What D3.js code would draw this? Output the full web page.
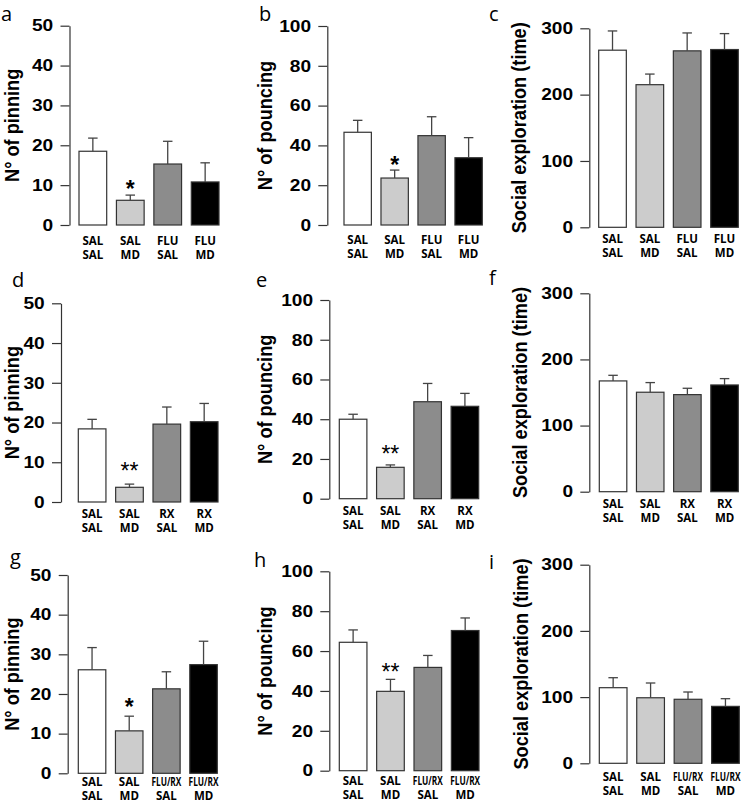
<!DOCTYPE html>
<html>
<head>
<script src="https://cdn.jsdelivr.net/npm/d3@7"></script>
<style>
	html, body {
		padding: 0;
		margin: 0;
		background: #fff;
	}
</style>
</head>
<body>
<script>
var width = 747, height = 804;

/* categories: drug line + condition line */
var drugFlu   = ["SAL", "SAL", "FLU", "FLU"];
var drugRx    = ["SAL", "SAL", "RX", "RX"];
var drugFluRx = ["SAL", "SAL", "FLU/RX", "FLU/RX"];
var condition = ["SAL", "MD", "SAL", "MD"];

/* y axis ticks + titles */
var pinningTicks  = [0, 10, 20, 30, 40, 50];
var pouncingTicks = [0, 20, 40, 60, 80, 100];
var socialTicks   = [0, 100, 200, 300];
var pinningTitle  = "N° of pinning";
var pouncingTitle = "N° of pouncing";
var socialTitle   = "Social exploration (time)";

/* means and SEM */
var pinningFlu      = [18.5, 6.2, 15.3, 10.8];
var pinningFluSem   = [3.3, 1.3, 5.7, 4.8];
var pouncingFlu     = [46.6, 23.6, 44.9, 33.8];
var pouncingFluSem  = [6.0, 4.0, 9.5, 10.1];
var socialFlu       = [267, 215, 266, 268];
var socialFluSem    = [29, 16, 27, 24];

var pinningRx       = [18.4, 3.7, 19.6, 20.2];
var pinningRxSem    = [2.4, 0.8, 4.3, 4.6];
var pouncingRx      = [40.0, 15.8, 48.8, 46.5];
var pouncingRxSem   = [2.5, 1.2, 9.2, 6.5];
var socialRx        = [167.5, 150.4, 146.8, 161.4];
var socialRxSem     = [8.5, 14.6, 9.6, 9.6];

var pinningFluRx    = [26.1, 10.7, 21.3, 27.4];
var pinningFluRxSem = [5.6, 3.7, 4.3, 5.9];
var pouncingFluRx   = [64.4, 39.8, 51.8, 70.3];
var pouncingFluRxSem= [6.2, 6.0, 6.0, 6.3];
var socialFluRx     = [114.2, 99, 96.7, 86];
var socialFluRxSem  = [15.1, 22.3, 11, 11.6];

/* significance marks */
var sigOne  = ["", "*", "", ""];
var sigTwo  = ["", "**", "", ""];
var sigNone = ["", "", "", ""];

var panels = [
	{ letter: "a", drug: drugFlu,   vals: pinningFlu,    sem: pinningFluSem,    ticks: pinningTicks,  title: pinningTitle,  sig: sigOne },
	{ letter: "b", drug: drugFlu,   vals: pouncingFlu,   sem: pouncingFluSem,   ticks: pouncingTicks, title: pouncingTitle, sig: sigOne },
	{ letter: "c", drug: drugFlu,   vals: socialFlu,     sem: socialFluSem,     ticks: socialTicks,   title: socialTitle,   sig: sigNone },
	{ letter: "d", drug: drugRx,    vals: pinningRx,     sem: pinningRxSem,     ticks: pinningTicks,  title: pinningTitle,  sig: sigTwo },
	{ letter: "e", drug: drugRx,    vals: pouncingRx,    sem: pouncingRxSem,    ticks: pouncingTicks, title: pouncingTitle, sig: sigTwo },
	{ letter: "f", drug: drugRx,    vals: socialRx,      sem: socialRxSem,      ticks: socialTicks,   title: socialTitle,   sig: sigNone },
	{ letter: "g", drug: drugFluRx, vals: pinningFluRx,  sem: pinningFluRxSem,  ticks: pinningTicks,  title: pinningTitle,  sig: sigOne },
	{ letter: "h", drug: drugFluRx, vals: pouncingFluRx, sem: pouncingFluRxSem, ticks: pouncingTicks, title: pouncingTitle, sig: sigTwo },
	{ letter: "i", drug: drugFluRx, vals: socialFluRx,   sem: socialFluRxSem,   ticks: socialTicks,   title: socialTitle,   sig: sigNone }
];

/* where each panel sits on the page */
var layout = [
	{ ax: 69.5,  top: 25.7,  bot: 225,   bl: 79,    br: 219,   lx: 1,   ly: 21,  tx: 18.5,  lab: 15.5, star: 11 },
	{ ax: 327.3, top: 26,    bot: 225,   bl: 344,   br: 482.3, lx: 259, ly: 21,  tx: 271.7, lab: 15,   star: 10 },
	{ ax: 589.3, top: 28.3,  bot: 227.3, bl: 598.7, br: 738.3, lx: 489, ly: 21,  tx: 525.5, lab: 12,   star: 10 },
	{ ax: 61,    top: 303.3, bot: 502,   bl: 78.3,  br: 218,   lx: 12,  ly: 287, tx: 18.5,  lab: 11.5, star: 18 },
	{ ax: 329.3, top: 300,   bot: 498.7, bl: 339.3, br: 478.7, lx: 256, ly: 287, tx: 271.7, lab: 12,   star: 16 },
	{ ax: 589.3, top: 293.3, bot: 491.7, bl: 599.3, br: 738.3, lx: 489, ly: 285, tx: 526.5, lab: 12.5, star: 10 },
	{ ax: 67.7,  top: 575,   bot: 773.3, bl: 78.3,  br: 217.3, lx: 10,  ly: 564, tx: 18.5,  lab: 9,    star: 14 },
	{ ax: 329.3, top: 571.3, bot: 770.7, bl: 339.3, br: 479,   lx: 254, ly: 567, tx: 271.7, lab: 10,   star: 12 },
	{ ax: 589.3, top: 564.7, bot: 763.3, bl: 599.3, br: 739.3, lx: 489, ly: 569, tx: 527.5, lab: 13.5, star: 10 }
];

var fills = ["#ffffff", "#cccccc", "#8c8c8c", "#000000"];
var stretch = 1.16;   // the source figure is a bit wider than tall
var boldFont = "'Liberation Sans', Arial, sans-serif";
var labelFont = "'Open Sans', 'Noto Sans', sans-serif";
var maxLabelW = 30;

var svg = d3.select("body").append("svg")
	.attr("width", width)
	.attr("height", height)
	.style("background", "#fff");

panels.forEach(function(p, k) {
	var L = layout[k];
	var g = svg.append("g");

	var y = d3.scaleLinear()
		.domain([0, d3.max(p.ticks)])
		.range([L.bot, L.top]);

	var x = d3.scaleBand()
		.domain(d3.range(p.vals.length))
		.range([L.bl, L.br])
		.paddingInner(0.26)
		.paddingOuter(0);

	// y axis
	var axis = g.append("g")
		.attr("transform", "translate(" + L.ax + ",0)")
		.call(d3.axisLeft(y).tickValues(p.ticks).tickSize(9).tickSizeOuter(0).tickPadding(5));
	axis.select(".domain").attr("stroke", "#333").attr("stroke-width", 1.2);
	axis.selectAll(".tick line").attr("stroke", "#333").attr("stroke-width", 1.2);
	axis.selectAll(".tick text")
		.attr("fill", "#000")
		.attr("transform", "scale(" + stretch + ",1)")
		.style("font-family", boldFont)
		.style("font-weight", "bold")
		.style("font-size", "16.5px");

	// y title
	g.append("text")
		.attr("transform", "translate(" + L.tx + "," + ((L.top + L.bot) / 2) + ") scale(" + stretch + ",1) rotate(-90)")
		.attr("text-anchor", "middle")
		.style("font-family", boldFont)
		.style("font-weight", "bold")
		.style("font-size", "18.2px")
		.text(p.title);

	// panel letter
	g.append("text")
		.attr("x", L.lx)
		.attr("y", L.ly)
		.style("font-family", labelFont)
		.style("font-size", "20px")
		.text(p.letter);

	// bars
	g.selectAll(".bar").data(p.vals).enter().append("rect")
		.attr("class", "bar")
		.attr("x", function(d, i) { return x(i); })
		.attr("y", function(d) { return y(d); })
		.attr("width", x.bandwidth())
		.attr("height", function(d) { return y(0) - y(d); })
		.attr("fill", function(d, i) { return fills[i]; })
		.attr("stroke", "#333")
		.attr("stroke-width", 1.2);

	// upper error bars
	var capW = 9.5;
	p.vals.forEach(function(v, i) {
		var cx = x(i) + x.bandwidth() / 2;
		var yTop = y(v + p.sem[i]);
		g.append("line")
			.attr("x1", cx).attr("x2", cx)
			.attr("y1", y(v)).attr("y2", yTop)
			.attr("stroke", "#444").attr("stroke-width", 1.3);
		g.append("line")
			.attr("x1", cx - capW / 2).attr("x2", cx + capW / 2)
			.attr("y1", yTop).attr("y2", yTop)
			.attr("stroke", "#444").attr("stroke-width", 1.3);
		if (p.sig[i]) {
			g.append("text")
				.attr("x", cx)
				.attr("y", yTop - L.star + 13)
				.attr("text-anchor", "middle")
				.style("font-family", boldFont)
				.style("font-weight", p.sig[i].length > 1 ? "normal" : "bold")
				.style("font-size", "23px")
				.text(p.sig[i]);
		}
	});

	// two-line category labels, squeezed when too wide (FLU/RX)
	p.drug.forEach(function(d, i) {
		var cx = x(i) + x.bandwidth() / 2;
		[d, condition[i]].forEach(function(s, line) {
			var ty = L.bot + L.lab + 4 + line * 14;
			var t = g.append("text")
				.attr("transform", "translate(" + cx + "," + ty + ")")
				.attr("text-anchor", "middle")
				.style("font-family", labelFont)
				.style("font-weight", "bold")
				.style("font-size", "11.5px")
				.text(s);
			var w = t.node().getComputedTextLength();
			if (w > maxLabelW) {
				t.attr("transform", "translate(" + cx + "," + ty + ") scale(" + (maxLabelW / w) + ",1)");
			}
		});
	});
});
</script>
</body>
</html>
